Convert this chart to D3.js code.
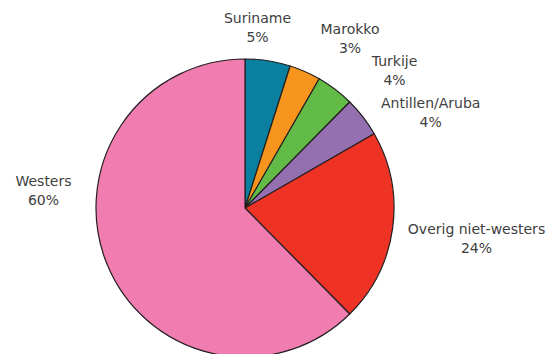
<!DOCTYPE html>
<html>
<head>
<meta charset="utf-8">
<script src="https://cdn.jsdelivr.net/npm/d3@7"></script>
<style>
  html, body { margin: 0; padding: 0; background: #fff; }
  svg { display: block; }
  text { font-family: "DejaVu Sans", sans-serif; font-size: 14px; fill: #404040; }
</style>
</head>
<body>
<svg id="chart" width="550" height="354"></svg>
<script>
const categories = ["Suriname", "Marokko", "Turkije", "Antillen/Aruba", "Overig niet-westers", "Westers"];
const values = [4.9, 3.4, 4.1, 4.3, 20.9, 62.4];
const valueLabels = ["5%", "3%", "4%", "4%", "24%", "60%"];

// Styling / layout (not data)
const colors = ["#0a7fa0", "#f7941d", "#62bb46", "#9470b0", "#ee3224", "#f07cb0"];
const cx = 245, cy = 208, radius = 149;
// label anchors (centre x, first-line baseline) relative to pie centre
const labelOffsets = [[12.5, -184.7], [105, -173.7], [149.5, -142], [185.7, -99.7], [231.5, 26.3], [-201.5, -22]];
const lineGap = 18.6;

const svg = d3.select("#chart");
const g = svg.append("g").attr("transform", `translate(${cx},${cy})`);

const pie = d3.pie().sort(null).value(d => d.v);
const arc = d3.arc().innerRadius(0).outerRadius(radius);
const data = categories.map((c, i) => ({ c, v: values[i], l: valueLabels[i], i }));

g.selectAll("path")
  .data(pie(data))
  .join("path")
  .attr("d", arc)
  .attr("fill", d => colors[d.data.i])
  .attr("stroke", "#231f20")
  .attr("stroke-width", 1.2)
  .attr("stroke-linejoin", "round");

const labels = g.selectAll("text.lbl")
  .data(pie(data))
  .join("text")
  .attr("class", "lbl")
  .attr("text-anchor", "middle")
  .attr("transform", d => `translate(${labelOffsets[d.data.i][0]},${labelOffsets[d.data.i][1]})`);

labels.append("tspan").attr("x", 0).attr("y", 0).text(d => d.data.c);
labels.append("tspan").attr("x", 0).attr("y", lineGap).text(d => d.data.l);
</script>
</body>
</html>
